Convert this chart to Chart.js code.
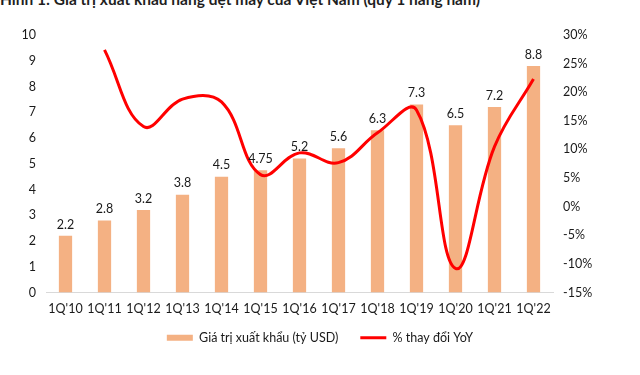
<!DOCTYPE html>
<html>
<head>
<meta charset="utf-8">
<script src="https://cdn.jsdelivr.net/npm/chart.js@4/dist/chart.umd.min.js"></script>
<style>
  html, body { margin: 0; padding: 0; background: #fff; }
  #wrap { position: relative; width: 640px; height: 375px; overflow: hidden; }
  #title {
    position: absolute; left: 0; top: -10px; white-space: nowrap;
    font: bold 15.5px Lato, "Noto Sans", sans-serif; color: #1f1f1f;
  }
  canvas { position: absolute; left: 0; top: 0; }
</style>
</head>
<body>
<div id="wrap">
  <div id="title">Hình 1: Giá trị xuất khẩu hàng dệt may của Việt Nam (quý 1 hàng năm)</div>
  <canvas id="ExportChart" width="640" height="375"></canvas>
</div>
<script>
  // categories and series
  const quarters   = ["1Q'10", "1Q'11", "1Q'12", "1Q'13", "1Q'14", "1Q'15", "1Q'16",
                      "1Q'17", "1Q'18", "1Q'19", "1Q'20", "1Q'21", "1Q'22"];
  const exportBn   = [2.2, 2.8, 3.2, 3.8, 4.5, 4.75, 5.2, 5.6, 6.3, 7.3, 6.5, 7.2, 8.8];
  const yoyPct     = [null, 27.4, 14.0, 18.8, 18.3, 5.6, 9.4, 7.7, 12.9, 16.9, -10.8, 10.5, 22.3];
  const leftTicks  = [0, 10, 1];     // min, max, step
  const rightTicks = [-15, 30, 5];

  const bar_color  = '#f4b183';
  const line_color = '#ff0000';
  const text_color = '#1a1a1a';
  const font_name  = 'Lato, "Noto Sans", sans-serif';

  // values above the bars
  const barLabels = {
    id: 'barLabels',
    afterDatasetsDraw(chart) {
      const ctx = chart.ctx;
      const meta = chart.getDatasetMeta(0);
      ctx.save();
      ctx.font = '12.5px ' + font_name;
      ctx.fillStyle = text_color;
      ctx.textAlign = 'center';
      ctx.textBaseline = 'bottom';
      meta.data.forEach((bar, i) => {
        ctx.fillText(String(exportBn[i]), bar.x, bar.y - 5);
      });
      ctx.restore();
    }
  };

  Chart.defaults.font.family = font_name;
  Chart.defaults.font.size = 12;
  Chart.defaults.color = text_color;

  const chart = new Chart(document.getElementById('ExportChart'), {
    type: 'bar',
    data: {
      labels: quarters,
      datasets: [{
        type: 'bar',
        label: 'Giá trị xuất khẩu (tỷ USD)',
        data: exportBn,
        backgroundColor: bar_color,
        borderWidth: 0,
        barPercentage: 0.34,
        categoryPercentage: 1,
        yAxisID: 'y',
        order: 1
      }, {
        type: 'line',
        label: '% thay đổi YoY',
        data: yoyPct,
        borderColor: line_color,
        backgroundColor: line_color,
        borderWidth: 3,
        pointRadius: 0,
        tension: 0.4,
        yAxisID: 'y1',
        order: 0
      }]
    },
    options: {
      responsive: false,
      animation: false,
      layout: { padding: { top: 35, bottom: 21, left: 0, right: 0 } },
      plugins: {
        tooltip: { enabled: false },
        legend: {
          position: 'bottom',
          labels: {
            usePointStyle: true,
            pointStyleWidth: 26,
            boxHeight: 6,
            padding: 6,
            color: text_color,
            font: { size: 12.5 },
            sort: (a, b) => a.datasetIndex - b.datasetIndex,
            generateLabels: (c) => Chart.defaults.plugins.legend.labels.generateLabels(c).map((item) => {
              if (item.datasetIndex === 0) {
                item.pointStyle = 'rect';
                item.lineWidth = 0;
                item.text = item.text + '     ';
              } else {
                item.pointStyle = 'line';
                item.lineWidth = 3;
                item.strokeStyle = line_color;
              }
              return item;
            })
          }
        }
      },
      scales: {
        x: {
          grid: { display: false, drawTicks: false },
          border: { display: true, color: '#d9d9d9', width: 1 },
          ticks: { padding: 9, maxRotation: 0, autoSkip: false, font: { size: 12.5 } }
        },
        y: {
          position: 'left',
          min: leftTicks[0], max: leftTicks[1],
          grid: { display: false, drawTicks: false },
          border: { display: false },
          ticks: { stepSize: leftTicks[2], padding: 10, font: { size: 12.5 } },
          afterFit: (axis) => { axis.width = 46; }
        },
        y1: {
          position: 'right',
          min: rightTicks[0], max: rightTicks[1],
          grid: { display: false, drawTicks: false },
          border: { display: false },
          ticks: { stepSize: rightTicks[2], padding: 10, font: { size: 12.5 }, callback: (v) => v + '%' },
          afterFit: (axis) => { axis.width = 87; }
        }
      }
    },
    plugins: [barLabels]
  });
</script>
</body>
</html>
